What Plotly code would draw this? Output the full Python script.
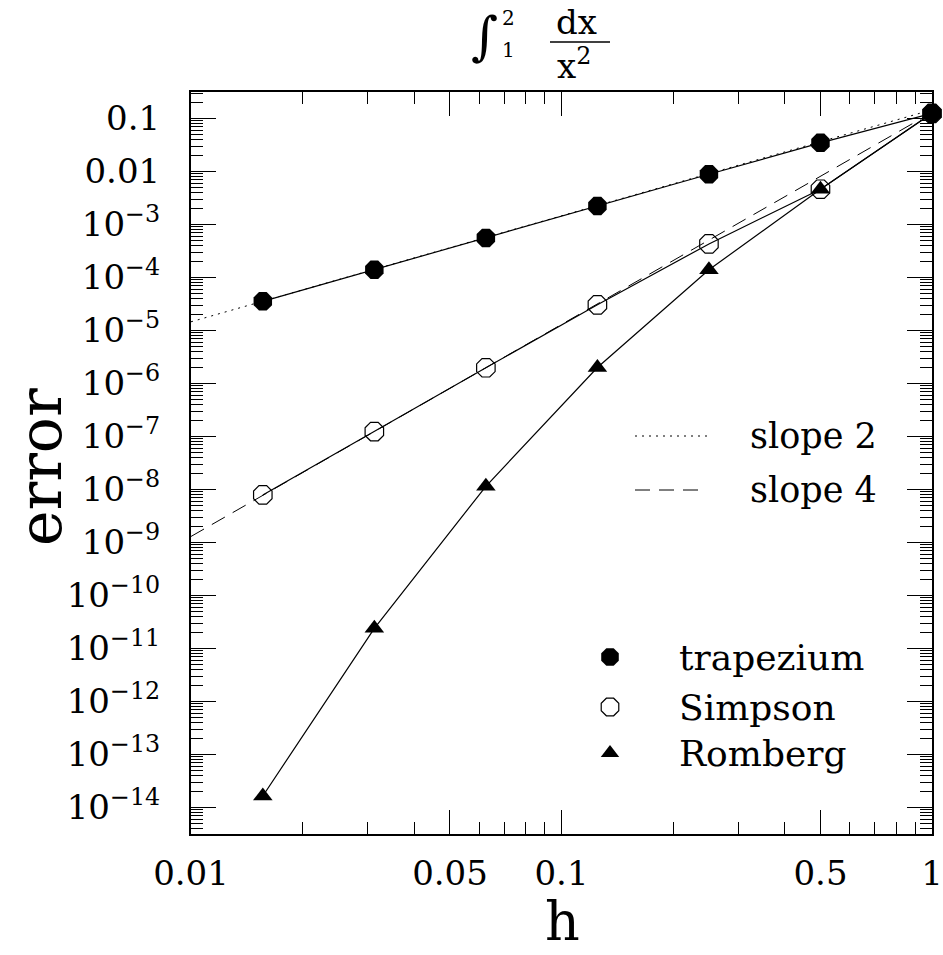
import plotly.graph_objects as go

# ---------------- data ----------------
h = [1, 0.5, 0.25, 0.125, 0.0625, 0.03125, 0.015625]
err_trapezium = [0.125, 0.0347, 0.00887, 0.00223, 5.58e-4, 1.40e-4, 3.55e-5]
err_simpson = [0.125, 4.63e-3, 4.3e-4, 3.05e-5, 1.98e-6, 1.24e-7, 7.9e-9]
err_romberg = [0.125, 4.63e-3, 1.4e-4, 2.0e-6, 1.15e-8, 2.4e-11, 1.65e-14]

slope_h = [0.01, 1]
slope2_err = [1.46e-5, 0.146]
slope4_err = [1.3e-9, 0.13]

x_tick_vals = [0.01, 0.05, 0.1, 0.5, 1]
x_tick_text = ["0.01", "0.05", "0.1", "0.5", "1"]
y_exponents = list(range(1, 15))
y_tick_vals = [10.0 ** -k for k in y_exponents]
y_tick_text = ["0.1", "0.01"] + [f"10<sup>\u2212{k}</sup>" for k in y_exponents[2:]]

legend_lines = ["slope 2", "slope 4"]
legend_markers = ["trapezium", "Simpson", "Romberg"]

# ---------------- layout geometry ----------------
W, H = 943, 955
L, R, T, B = 191, 11, 92, 121
PW, PH = W - L - R, H - T - B
FONT = "DejaVu Serif"


def px(x):
    return (x - L) / PW


def py(y):
    return (H - B - y) / PH


x_minor = [m * 10.0 ** e for e in (-2, -1) for m in range(2, 10) if not (m == 5)]
y_minor = [m * 10.0 ** e for e in range(-15, 0) for m in range(2, 10)]

fig = go.Figure()

fig.add_trace(go.Scatter(x=slope_h, y=slope2_err, mode="lines",
                         line=dict(color="black", width=1, dash="2px,5px"),
                         showlegend=False, hoverinfo="skip"))
fig.add_trace(go.Scatter(x=slope_h, y=slope4_err, mode="lines",
                         line=dict(color="black", width=1, dash="15px,9px"),
                         showlegend=False, hoverinfo="skip"))

fig.add_trace(go.Scatter(x=h, y=err_trapezium, mode="lines+markers", name="trapezium",
                         line=dict(color="black", width=1.2),
                         marker=dict(symbol="octagon", size=20, color="black"),
                         cliponaxis=False, showlegend=False))
fig.add_trace(go.Scatter(x=h, y=err_simpson, mode="lines+markers", name="Simpson",
                         line=dict(color="black", width=1.2),
                         marker=dict(symbol="octagon-open", size=20, color="black",
                                     line=dict(width=1.2, color="black")),
                         cliponaxis=False, showlegend=False))
fig.add_trace(go.Scatter(x=h, y=err_romberg, mode="lines+markers", name="Romberg",
                         line=dict(color="black", width=1.2),
                         marker=dict(symbol="triangle-up", size=17, color="black"),
                         cliponaxis=False, showlegend=False))

# legend samples on an overlay axis in pixel-like coordinates
fig.add_trace(go.Scatter(x=[px(635), px(710)], y=[py(436)] * 2, mode="lines",
                         line=dict(color="black", width=1, dash="2px,5px"),
                         xaxis="x2", yaxis="y2", showlegend=False, hoverinfo="skip"))
fig.add_trace(go.Scatter(x=[px(635), px(702)], y=[py(490)] * 2, mode="lines",
                         line=dict(color="black", width=1, dash="15px,9px"),
                         xaxis="x2", yaxis="y2", showlegend=False, hoverinfo="skip"))
fig.add_trace(go.Scatter(x=[px(610)], y=[py(657)], mode="markers",
                         marker=dict(symbol="octagon", size=19, color="black"),
                         xaxis="x2", yaxis="y2", showlegend=False, hoverinfo="skip"))
fig.add_trace(go.Scatter(x=[px(610)], y=[py(707)], mode="markers",
                         marker=dict(symbol="octagon-open", size=19, color="black",
                                     line=dict(width=1.2, color="black")),
                         xaxis="x2", yaxis="y2", showlegend=False, hoverinfo="skip"))
fig.add_trace(go.Scatter(x=[px(610)], y=[py(753)], mode="markers",
                         marker=dict(symbol="triangle-up", size=16, color="black"),
                         xaxis="x2", yaxis="y2", showlegend=False, hoverinfo="skip"))

annotations = []
for txt, yy in zip(legend_lines, [436, 490]):
    annotations.append(dict(x=px(748), y=py(yy), xref="paper", yref="paper", text=txt,
                            showarrow=False, xanchor="left", yanchor="middle",
                            font=dict(family=FONT, size=35, color="black")))
for txt, yy in zip(legend_markers, [657, 707, 753]):
    annotations.append(dict(x=px(677), y=py(yy), xref="paper", yref="paper", text=txt,
                            showarrow=False, xanchor="left", yanchor="middle",
                            font=dict(family=FONT, size=36, color="black")))

# axis titles
annotations.append(dict(x=px(562), y=py(955), xref="paper", yref="paper", text="h",
                        showarrow=False, xanchor="center", yanchor="bottom",
                        font=dict(family=FONT, size=54, color="black")))
annotations.append(dict(x=px(40), y=py(467), xref="paper", yref="paper", text="error",
                        showarrow=False, xanchor="center", yanchor="middle", textangle=-90,
                        font=dict(family=FONT, size=60, color="black")))

# title: integral from 1 to 2 of dx / x^2
annotations += [
    dict(x=px(484), y=py(36), xref="paper", yref="paper", text="\u222b", showarrow=False,
         xanchor="center", yanchor="middle", font=dict(family=FONT, size=52, color="black")),
    dict(x=px(508), y=py(18), xref="paper", yref="paper", text="2", showarrow=False,
         xanchor="center", yanchor="middle", font=dict(family=FONT, size=20, color="black")),
    dict(x=px(508), y=py(50), xref="paper", yref="paper", text="1", showarrow=False,
         xanchor="center", yanchor="middle", font=dict(family=FONT, size=20, color="black")),
    dict(x=px(576), y=py(22), xref="paper", yref="paper", text="dx", showarrow=False,
         xanchor="center", yanchor="middle", font=dict(family=FONT, size=34, color="black")),
    dict(x=px(574), y=py(64), xref="paper", yref="paper", text="x<sup>2</sup>", showarrow=False,
         xanchor="center", yanchor="middle", font=dict(family=FONT, size=34, color="black")),
]

shapes = [dict(type="line", xref="paper", yref="paper", x0=px(550), x1=px(610),
               y0=py(42), y1=py(42), line=dict(color="black", width=1.5))]

fig.update_layout(
    width=W, height=H, autosize=False,
    margin=dict(l=L, r=R, t=T, b=B, autoexpand=False),
    paper_bgcolor="white", plot_bgcolor="white",
    font=dict(family=FONT, color="black"),
    annotations=annotations, shapes=shapes,
    xaxis=dict(type="log", range=[-2, 0], showgrid=False, zeroline=False, automargin=False,
               showline=True, linewidth=2, linecolor="black", mirror="ticks",
               ticks="inside", ticklen=24, tickwidth=1.2, tickcolor="black",
               tickmode="array", tickvals=x_tick_vals, ticktext=x_tick_text,
               tickfont=dict(family=FONT, size=34, color="black"),
               ticklabelstandoff=8,
               minor=dict(tickmode="array", tickvals=x_minor, ticks="inside",
                          ticklen=12, tickwidth=1.2, tickcolor="black", showgrid=False)),
    yaxis=dict(type="log", range=[-14.5, -0.5], showgrid=False, zeroline=False, automargin=False,
               showline=True, linewidth=2, linecolor="black", mirror="ticks",
               ticks="inside", ticklen=25, tickwidth=1.2, tickcolor="black",
               tickmode="array", tickvals=y_tick_vals, ticktext=y_tick_text,
               tickfont=dict(family=FONT, size=34, color="black"),
               ticklabelstandoff=22,
               minor=dict(tickmode="array", tickvals=y_minor, ticks="inside",
                          ticklen=12, tickwidth=1.2, tickcolor="black", showgrid=False)),
    xaxis2=dict(range=[0, 1], overlaying="x", visible=False, fixedrange=True),
    yaxis2=dict(range=[0, 1], overlaying="y", visible=False, fixedrange=True),
)

fig.write_html("out.html", config={"displayModeBar": False},
               post_script="document.body.style.margin='0';document.body.style.overflow='hidden';")
